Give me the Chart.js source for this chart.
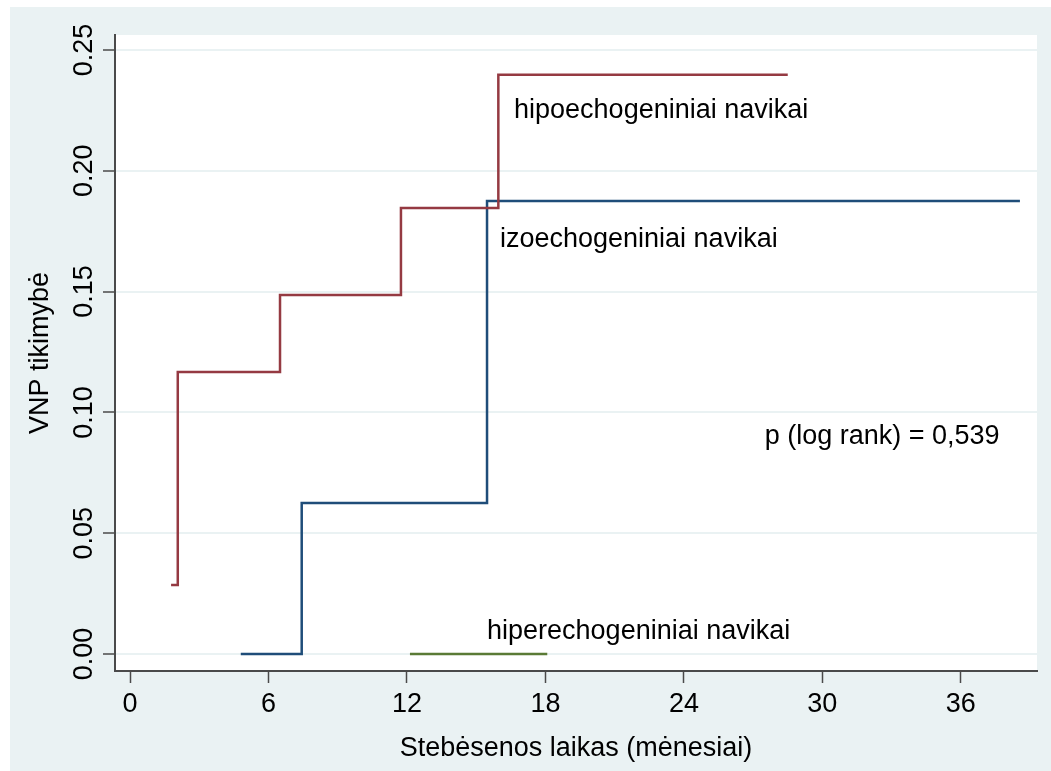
<!DOCTYPE html>
<html>
<head>
<meta charset="utf-8">
<script src="https://cdn.jsdelivr.net/npm/chart.js@4.4.1/dist/chart.umd.min.js"></script>
<style>
  html, body { margin: 0; padding: 0; background: #fff; }
  #wrap { width: 1051px; height: 771px; }
</style>
</head>
<body>
<div id="wrap"><canvas id="km" width="1051" height="771"></canvas></div>
<script>
// duomenys (nuskaityta nuo paveikslo)
const hipoX = [1.78, 2.07, 6.5, 11.74, 15.96, 28.5];
const hipoY = [0.0286, 0.1167, 0.1486, 0.1846, 0.2397, 0.2397];
const izoX = [4.8, 7.44, 15.47, 38.56];
const izoY = [0, 0.0625, 0.1875, 0.1875];
const hiperX = [12.13, 18.08];
const hiperY = [0, 0];

const xTicks = [0, 6, 12, 18, 24, 30, 36];
const yTicks = [0, 0.05, 0.10, 0.15, 0.20, 0.25];

const noteTexts = ['hipoechogeniniai navikai', 'izoechogeniniai navikai', 'hiperechogeniniai navikai', 'p (log rank) = 0,539'];
const noteX = [16.64, 16.03, 15.47, 27.5];
const noteY = [0.2248, 0.1714, 0.0091, 0.0898];

const fam = '"Liberation Sans", Arial, sans-serif';
const fsize = 27;

const pts = (xs, ys) => xs.map((x, i) => ({ x: x, y: ys[i] }));

const bgPlugin = {
  id: 'bg',
  beforeDraw(chart) {
    const { ctx, chartArea } = chart;
    ctx.save();
    ctx.fillStyle = '#ffffff';
    ctx.fillRect(0, 0, chart.width, chart.height);
    ctx.fillStyle = '#eaf2f3';
    ctx.fillRect(10, 7, chart.width - 10, chart.height - 7);
    ctx.fillStyle = '#ffffff';
    ctx.fillRect(chartArea.left, chartArea.top, chartArea.right - chartArea.left, chartArea.bottom - chartArea.top);
    ctx.restore();
  }
};

const notesPlugin = {
  id: 'notes',
  afterDatasetsDraw(chart) {
    const { ctx, scales } = chart;
    ctx.save();
    ctx.fillStyle = '#000';
    ctx.font = fsize + 'px ' + fam;
    ctx.textAlign = 'left';
    ctx.textBaseline = 'middle';
    noteTexts.forEach((t, i) => {
      ctx.fillText(t, scales.x.getPixelForValue(noteX[i]), scales.y.getPixelForValue(noteY[i]));
    });
    ctx.restore();
  }
};

const line = (label, data, color) => ({
  label: label,
  data: data,
  borderColor: color,
  backgroundColor: color,
  borderWidth: 2.5,
  stepped: 'before',
  pointRadius: 0,
  fill: false
});

new Chart(document.getElementById('km'), {
  type: 'line',
  data: {
    datasets: [
      line('hipoechogeniniai', pts(hipoX, hipoY), '#953a42'),
      line('izoechogeniniai', pts(izoX, izoY), '#1f4d79'),
      line('hiperechogeniniai', pts(hiperX, hiperY), '#5a7a35')
    ]
  },
  options: {
    responsive: false,
    devicePixelRatio: 1,
    animation: false,
    layout: { padding: { left: 0, top: 35, right: 14, bottom: 0 } },
    plugins: { legend: { display: false }, tooltip: { enabled: false } },
    scales: {
      x: {
        type: 'linear',
        min: -0.65,
        max: 39.3,
        afterBuildTicks: s => { s.ticks = xTicks.map(v => ({ value: v })); },
        afterFit: s => { s.height = 100; },
        border: { display: true, color: '#4a4a4a', width: 2 },
        grid: { drawOnChartArea: false, drawTicks: true, tickLength: 12, tickColor: '#4a4a4a', tickWidth: 1.5 },
        ticks: { color: '#000', font: { family: fam, size: fsize }, padding: 5, maxRotation: 0 },
        title: { display: true, text: 'Stebėsenos laikas (mėnesiai)', color: '#000', font: { family: fam, size: fsize }, padding: { top: 0, bottom: 6 } }
      },
      y: {
        type: 'linear',
        min: -0.00704,
        max: 0.2562,
        afterBuildTicks: s => { s.ticks = yTicks.map(v => ({ value: v })); },
        afterFit: s => { s.width = 115; },
        border: { display: true, color: '#4a4a4a', width: 2 },
        grid: { color: '#eaf2f3', lineWidth: 2, drawTicks: true, tickLength: 12, tickColor: '#4a4a4a', tickWidth: 1.5 },
        ticks: {
          color: '#000', font: { family: fam, size: fsize },
          minRotation: 90, maxRotation: 90, crossAlign: 'center', padding: -8,
          callback: v => v.toFixed(2)
        },
        title: { display: true, text: 'VNP tikimybė', color: '#000', font: { family: fam, size: fsize }, padding: { top: 24, bottom: 0 } }
      }
    }
  },
  plugins: [bgPlugin, notesPlugin]
});
</script>
</body>
</html>
